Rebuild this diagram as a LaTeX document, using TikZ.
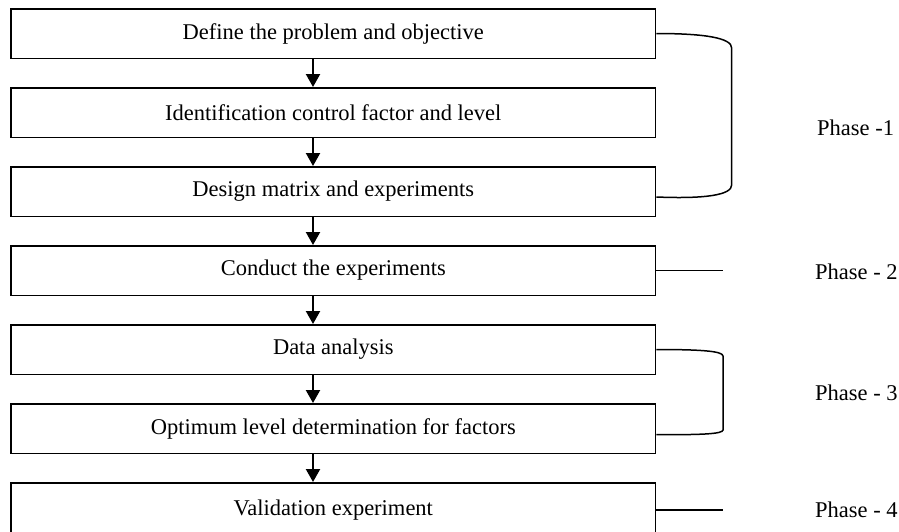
\documentclass[tikz,border=0pt]{standalone}
\usepackage{fontspec}
\setmainfont{Liberation Serif}
\usetikzlibrary{arrows.meta,positioning}

\begin{document}
\begin{tikzpicture}[x=1pt, y=-1pt, >={Triangle[length=13pt,width=14pt]}, node distance=28pt,
    box/.style={rectangle, draw, line width=1.5pt, minimum width=644.7pt, minimum height=49.5pt,
        inner sep=0pt, font=\fontsize{22.5}{27}\selectfont},
    flow/.style={->, line width=2.2pt},
    brace/.style={line width=1.5pt},
    phase/.style={anchor=west, inner sep=0pt, font=\fontsize{22.5}{27}\selectfont}]

    \useasboundingbox (0,0) rectangle (899,531);
    \clip (0,0) rectangle (899,531);

    % Nodes
    \node[box] (b1) at (333.3,33.5) {Define the problem and objective};
    \node[box, below=of b1] (b2) {Identification control factor and level};
    \node[box, below=of b2] (b3) {Design matrix and experiments};
    \node[box, below=of b3] (b4) {Conduct the experiments};
    \node[box, below=of b4] (b5) {Data analysis};
    \node[box, below=of b5] (b6) {Optimum level determination for factors};
    \node[box, below=of b6, minimum height=54pt] (b7) {Validation experiment};

    % Arrows
    \coordinate (ax) at (313,0);
    \foreach \a/\b in {b1/b2, b2/b3, b3/b4, b4/b5, b5/b6, b6/b7}
        \draw[flow] (\a.south -| ax) -- (\b.north -| ax);

    % Phases
    \coordinate (r1) at (731.7,0);
    \coordinate (r2) at (723,0);
    \draw[brace] (b1.east) .. controls (705,33.5) and (731.7,38) .. (731.7,48)
        -- (731.7,185) .. controls (731.7,195) and (705,199) .. ([yshift=-5.5pt]b3.east);
    \draw[brace] (b4.east) -- (b4.east -| r2);
    \draw[brace] (b5.east) .. controls (700,349.5) and (723,351) .. (723,356)
        -- (723,430) .. controls (723,434) and (700,435) .. ([yshift=-6pt]b6.east);
    \draw[brace] (b7.east) -- (b7.east -| r2);

    \node[phase] (p1) at (817,128) {Phase -1};
    \node[phase] (p2) at (815,272) {Phase - 2};
    \node[phase] (p3) at (815,393) {Phase - 3};
    \node[phase] (p4) at (815,510) {Phase - 4};

\end{tikzpicture}
\end{document}
